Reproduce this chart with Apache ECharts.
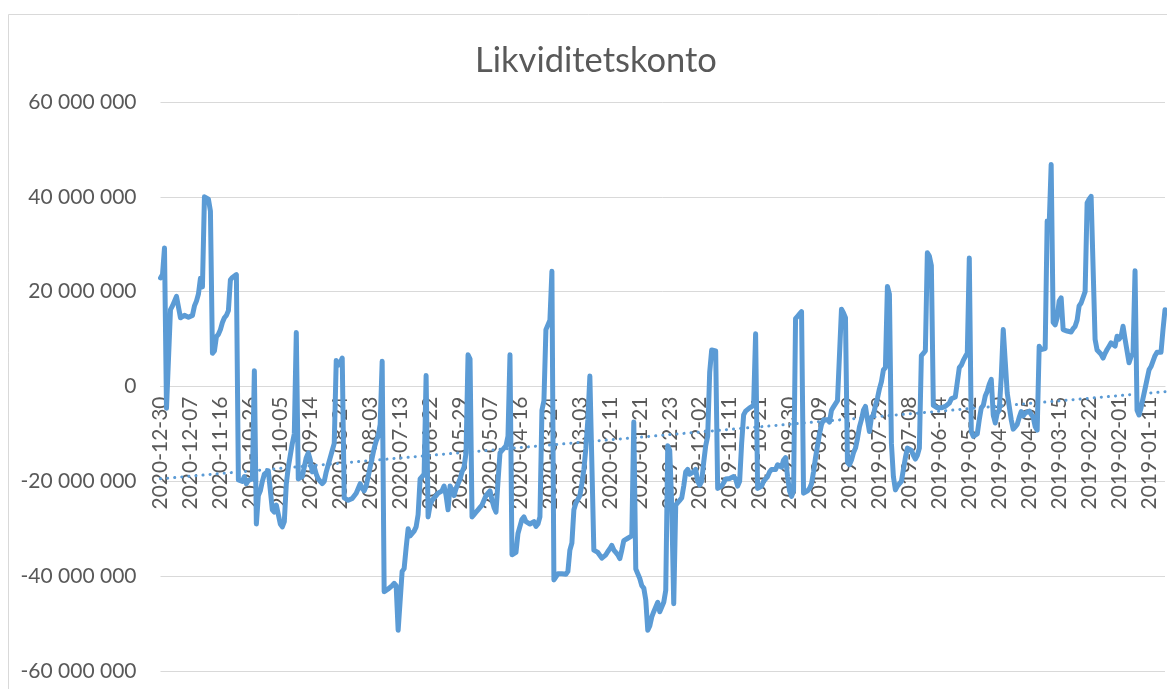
<!DOCTYPE html>
<html>
<head>
<meta charset="utf-8">
<script src="https://cdn.jsdelivr.net/npm/echarts@6/dist/echarts.min.js"></script>
<style>
html,body{margin:0;padding:0;background:#ffffff;overflow:hidden}
#c{width:1167px;height:689px}
</style>
</head>
<body>
<div id="c"></div>
<script>
// ---------- DATA ----------
const chartTitle = 'Likviditetskonto';
// Swedish bank days, newest first (left) to oldest (right)
const firstDate = '2020-12-30';
const lastDate = '2018-12-28';
const bankHolidays = [
  '2019-01-01','2019-04-19','2019-04-22','2019-05-01','2019-05-30','2019-06-06','2019-06-21',
  '2019-12-24','2019-12-25','2019-12-26','2019-12-31','2018-12-31',
  '2020-01-01','2020-01-06','2020-04-10','2020-04-13','2020-05-21','2020-06-19',
  '2020-12-24','2020-12-25'
];
// category labels shown on the x axis
const tickLabels = [
  '2020-12-30','2020-12-07','2020-11-16','2020-10-26','2020-10-05','2020-09-14','2020-08-24',
  '2020-08-03','2020-07-13','2020-06-22','2020-05-29','2020-05-07','2020-04-16','2020-03-24',
  '2020-03-03','2020-02-11','2020-01-21','2019-12-23','2019-12-02','2019-11-11','2019-10-21',
  '2019-09-30','2019-09-09','2019-08-19','2019-07-29','2019-07-08','2019-06-14','2019-05-22',
  '2019-04-30','2019-04-05','2019-03-15','2019-02-22','2019-02-01','2019-01-11'
];
// balance, millions, one per bank day, newest first
const balanceMillions = [
  22.9, 23.6, 29.2, -4.6, -4.3, 16.2, 17, 18, 19, 19, 14.5, 14.2, 15, 15.3, 14.6,
  14.2, 15, 17, 18, 19.5, 22.8, 21, 40, 40.3, 39.5, 37, 7, 7.5, 10.5, 11,
  12, 13.5, 14.5, 15, 16, 22.5, 23, 23.4, 23.6, -19.7, -19.5, -20, -19, -20.5, -19.8,
  -20, -19.5, 3.3, -29, -23, -22, -20, -18.5, -18.3, -17.8, -17.5, -26, -26.5, -25, -27,
  -29, -29.6, -28.5, -20.5, -17, -14.5, -12, -10, 11.4, -19.5, -19.5, -19, -17, -15, -14,
  -15.5, -18, -17, -18.5, -19.5, -20, -20.5, -20, -18, -16.5, -15, -13.5, -12, 5.5, 4.5,
  5, 6, -23.5, -23.8, -24, -23.8, -23.6, -23.3, -22.5, -21.5, -20.5, -21.5, -22, -21, -19,
  -17, -15, -13, -11.5, -10.5, -8, 5.3, -43.3, -43, -42.7, -42.3, -42, -41.5, -42, -51.4,
  -51, -39, -38.4, -34, -30, -31.5, -31.8, -30.5, -29.6, -27, -19.5, -19, -18.5, 2.3, -27.5,
  -25, -24, -23.5, -23, -22.5, -22.8, -22, -21, -23, -26, -21, -22, -23, -21.5, -20.5,
  -19.5, -18, -17, -14, 6.7, 5.8, -27.5, -27, -26.5, -26, -25.5, -25, -24, -23, -22.5,
  -22, -24, -25.5, -26.5, -20, -14, -13.5, -13, -12.5, -10.5, 6.7, -35.5, -35.5, -35, -31,
  -29.5, -28, -27.5, -28.5, -28.5, -29, -29, -28.5, -29.5, -29, -27.5, -5, -3, 12, 13,
  14, 24.3, -40.8, -40.5, -39.5, -39.5, -39.5, -39.8, -39.6, -39, -34.5, -33, -26, -24.6, -24.8,
  -23, -20.5, -17.5, -13, -7, 2.2, 2.0, -34.5, -34.7, -35, -35.3, -36.2, -36.5, -35.5, -34.8,
  -34.2, -33.5, -34.5, -35, -35.5, -36.3, -34.5, -32.5, -32.3, -32, -31.8, -31.5, -7.5, -38.5, -39.5,
  -40.5, -42, -42.5, -45, -51.4, -50.5, -48.6, -47.5, -46.5, -45.5, -47.5, -46.5, -45.5, -43, -12.5,
  -13.5, -25, -45.8, -25, -24.5, -24, -23.5, -21, -18, -17.5, -18.5, -18.8, -18, -17.5, -20,
  -20.8, -20, -16, -12.5, -10.5, 3, 7.7, 7.8, 7.5, -21.5, -21.3, -21, -20.3, -19.5, -19.3,
  -19.4, -19.3, -19, -19.5, -21, -20, -12, -6, -5.2, -4.8, -4.5, -4.3, -4, 11.1, -21.5,
  -21.3, -21, -20, -19.5, -19, -18, -17.5, -17.2, -17.5, -16.5, -16.5, -17, -15.5, -15, -19,
  -22, -23.2, -22, 14.3, 14.8, 15.3, 15.8, -22.5, -22.3, -22, -21.5, -20.5, -18, -15, -12.5,
  -10, -8, -7, -6.8, -7, -7.5, -5, -4.3, -4, -3, -2.8, 16.3, 15.5, 14.5, -16,
  -16.5, -15.5, -14, -13, -11, -8.5, -7, -5, -4.2, -7, -9.5, -6.5, -6, -4, -2.5,
  -0.5, 1, 3.5, 4, 21.1, 19.5, -12, -19, -21.8, -21, -20.5, -20, -19.8, -15, -13,
  -12.8, -13.5, -14.5, -15.3, -14.5, -13, 6.5, 7, 7.5, 28.2, 27.5, 25.5, -4, -4.3, -4.5,
  -4.3, -4.5, -4.3, -4.2, -4, -3.5, -2.6, -2.5, -2.2, -2, 4, 4.5, 5.5, 6.3, 7,
  27.1, -9.5, -10.5, -10.2, -10, -7, -4.5, -4, -2, -1, 0.5, 1.5, -6, -7.7, -5.6,
  -5, 2, 12, 12, -1.4, -1.5, -7, -9, -8.5, -8, -6.5, -5.3, -6.2, -5.6, -5.8,
  -5.2, -5, -6.5, -8.5, -9.2, 8.5, 7.8, 7.7, 8, 34.9, 34, 46.8, 13.5, 13, 14.5,
  18, 18.7, 12, 11.6, 11.7, 11.3, 11.5, 12.2, 12.7, 14, 17, 17.6, 18, 20, 38.7,
  39.5, 40.1, 40, 9.9, 7.7, 7.5, 6.8, 6, 7, 7.8, 8.5, 9.2, 9, 8.5, 10.6,
  10, 10.5, 12.7, 10, 9.9, 5, 6.3, 7, 24.4, -5, -6, -4.5, -2.5, -0.5, 1.5,
  3.5, 4.2, 3.8, 6.5, 7.2, 7, 7.2, 12, 16.2
];
const yMin = -60000000, yMax = 60000000, yStep = 20000000;

// ---------- BUILD ----------
function iso(d){ return d.toISOString().slice(0,10); }
const categories = [];
(function(){
  const d = new Date(firstDate + 'T00:00:00Z');
  const end = new Date(lastDate + 'T00:00:00Z');
  while (d >= end) {
    const wd = d.getUTCDay();
    const s = iso(d);
    if (wd !== 0 && wd !== 6 && bankHolidays.indexOf(s) < 0) categories.push(s);
    d.setUTCDate(d.getUTCDate() - 1);
  }
})();
const n = Math.min(categories.length, balanceMillions.length);
const cats = categories.slice(0, n);
const values = balanceMillions.slice(0, n).map(v => Math.round(v * 1e6));

// linear trend line (least squares over category index)
let sx=0, sy=0, sxx=0, sxy=0;
values.forEach((v,i)=>{ sx+=i; sy+=v; sxx+=i*i; sxy+=i*v; });
const slope = (n*sxy - sx*sy) / (n*sxx - sx*sx);
const icpt = (sy - slope*sx) / n;
const trend = values.map((v,i)=> icpt + slope*i);

function fmt(v){
  const s = Math.abs(Math.round(v)).toString().replace(/\B(?=(\d{3})+(?!\d))/g, ' ');
  return (v < 0 ? '-' : '') + s;
}

// plot geometry
const W = 1167, H = 689;
const gridTop = 102, gridBottom = 18;
const plotH = H - gridTop - gridBottom;
// move the category axis up to the value 0 line
const zeroOffset = -plotH * (0 - yMin) / (yMax - yMin);

const chart = echarts.init(document.getElementById('c'), null, {renderer:'canvas'});
const txt = '#595959';
chart.setOption({
  animation: false,
  backgroundColor: '#ffffff',
  graphic: [{
    type: 'rect', silent: true, z: -10,
    shape: {x: 8.5, y: 14.5, width: 1200, height: 700},
    style: {fill: 'none', stroke: '#d9d9d9', lineWidth: 1}
  }],
  title: {
    text: chartTitle,
    left: 591, top: 38, textAlign: 'center',
    textStyle: {fontFamily: 'Lato', fontSize: 34.5, fontWeight: 'normal', color: txt}
  },
  grid: {left: 160.5, right: 2, top: gridTop, bottom: gridBottom, containLabel: false, outerBoundsMode: 'none'},
  xAxis: {
    type: 'category',
    data: cats,
    boundaryGap: false,
    offset: zeroOffset,
    axisLine: {show: true, onZero: false, lineStyle: {color: '#d9d9d9', width: 1}},
    axisTick: {show: false},
    splitLine: {show: false},
    axisLabel: {
      rotate: 90,
      interval: function(idx, val){ return tickLabels.indexOf(val) >= 0; },
      margin: 10,
      color: txt, fontFamily: 'Lato', fontSize: 21
    }
  },
  yAxis: {
    type: 'value',
    min: yMin, max: yMax, interval: yStep,
    axisLine: {show: false},
    axisTick: {show: false},
    splitLine: {lineStyle: {color: '#d9d9d9', width: 1}},
    axisLabel: {formatter: fmt, margin: 24, color: txt, fontFamily: 'Lato', fontSize: 21}
  },
  series: [
    {
      name: chartTitle, type: 'line', data: values,
      showSymbol: false, symbol: 'none',
      lineStyle: {color: '#5B9BD5', width: 5, join: 'round', cap: 'round'},
      z: 3
    },
    {
      name: 'Linjär trend', type: 'line', data: trend,
      showSymbol: false, symbol: 'none',
      lineStyle: {color: '#5B9BD5', width: 3, type: [0.1, 7], cap: 'round'},
      z: 4
    }
  ]
});
</script>
</body>
</html>
